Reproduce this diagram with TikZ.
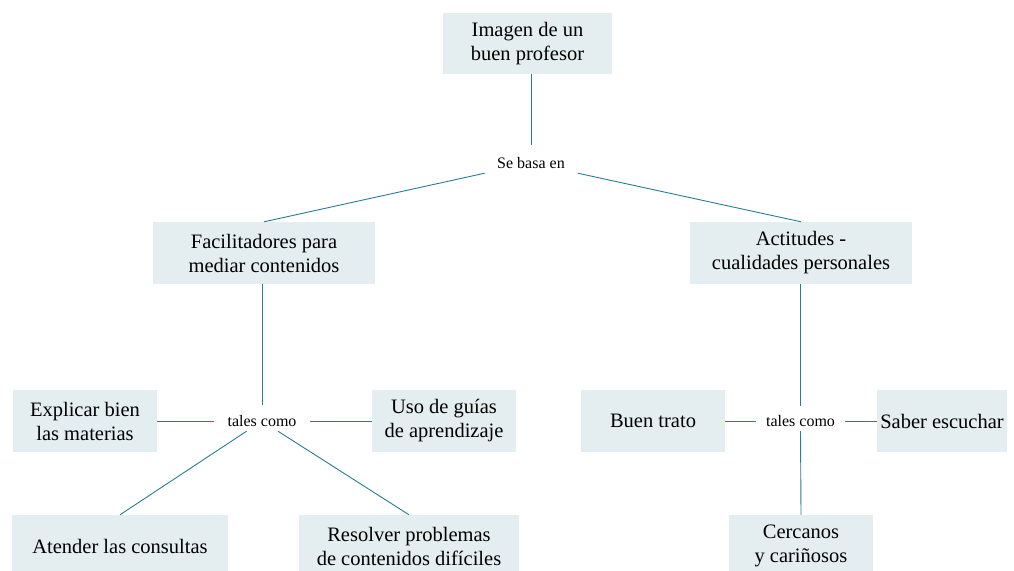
\documentclass[tikz,border=0pt]{standalone}
\usepackage{fontspec}
\setmainfont{Liberation Serif}
\definecolor{boxfill}{HTML}{E4EDF0}
\definecolor{linec}{HTML}{2B7B91}
\begin{document}
\begin{tikzpicture}[x=1pt,y=-1pt,
  cbox/.style={fill=boxfill, inner sep=0pt, align=center, anchor=center,
    font=\fontsize{20.5}{24}\selectfont},
  lbl/.style={inner sep=0pt, minimum height=20pt, anchor=center,
    font=\fontsize{16}{18}\selectfont},
  conn/.style={draw=linec, line width=0.9pt}]
\useasboundingbox (0,0) rectangle (1014,570);
% boxes
\node[cbox, minimum width=169pt, minimum height=61pt] (img) at (527.5,43.5) {Imagen de un\\buen profesor};
\node[cbox, minimum width=222pt, minimum height=62pt] (fac) at (264,253) {Facilitadores para\\mediar contenidos};
\node[cbox, minimum width=222pt, minimum height=62pt] (act) at (801,253) {Actitudes -\\cualidades personales};
\node[cbox, minimum width=144pt, minimum height=62pt] (ex) at (85,421) {Explicar bien\\las materias};
\node[cbox, minimum width=144pt, minimum height=62pt] (uso) at (444,421) {Uso de guías\\de aprendizaje};
\node[cbox, minimum width=216pt, minimum height=62pt] (at) at (120,546) {Atender las consultas};
\node[cbox, minimum width=220pt, minimum height=62pt] (res) at (409,546) {Resolver problemas\\de contenidos difíciles};
\node[cbox, minimum width=144pt, minimum height=62pt] (bt) at (653,421) {Buen trato};
\node[cbox, minimum width=130pt, minimum height=62pt] (sab) at (942,421) {Saber escuchar};
\node[cbox, minimum width=144pt, minimum height=62pt] (cer) at (801,546) {Cercanos\\y cariñosos};
% labels
\node[lbl, minimum width=94pt] (sb) at (531,163) {Se basa en};
\node[lbl, minimum width=96pt] (tc1) at (262,421) {tales como};
\node[lbl, minimum width=89pt] (tc2) at (800.5,421) {tales como};
% connectors
\draw[conn, shorten >=8pt] (sb.north |- img.south) -- (sb.north);
\draw[conn] (sb) -- (fac.north);
\draw[conn] (sb) -- (act.north);
\draw[conn, shorten >=6pt] (fac.south -| tc1.north) -- (tc1.north);
\draw[conn] (tc1.west) -- (ex.east);
\draw[conn] (tc1.east) -- (uso.west);
\draw[conn] (tc1) -- (at.north);
\draw[conn] (tc1) -- (res.north);
\draw[conn, shorten >=5pt] (act.south -| tc2.north) -- (tc2.north);
\draw[conn] (tc2.west) -- (bt.east);
\draw[conn] (tc2.east) -- (sab.west);
\draw[conn] (tc2.south) -- (cer.north);
\end{tikzpicture}
\end{document}
